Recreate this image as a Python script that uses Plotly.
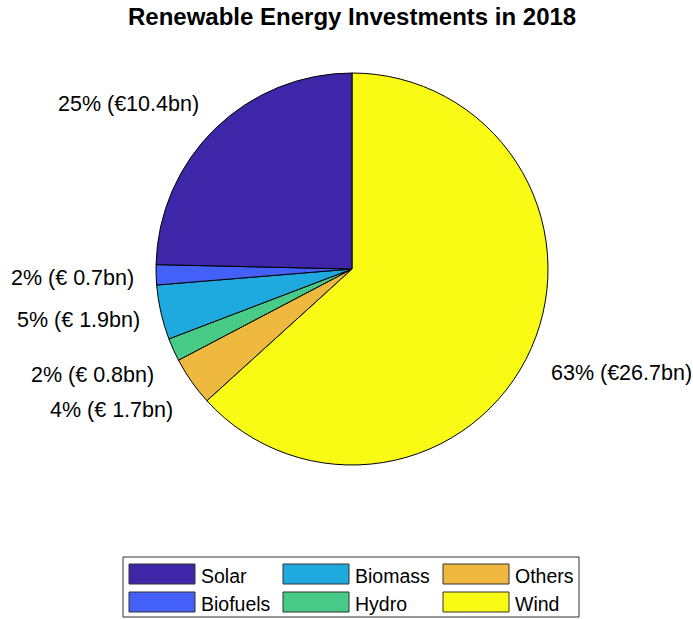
import math
import plotly.graph_objects as go

# Investment by technology, billions of euros
sources = ["Solar", "Biofuels", "Biomass", "Hydro", "Others", "Wind"]
invest_bn = [10.4, 0.7, 1.9, 0.8, 1.7, 26.7]
colors = ["#3E26A8", "#4361F8", "#1EA9DF", "#48CB86", "#EFB83F", "#F9FB15"]

W, H = 693, 619
FONT = "Liberation Sans, Arial, sans-serif"

# Pie geometry in pixels
cx, cy, R = 352, 269, 196


def px(x):
    return x / W


def py(y):
    return 1 - y / H


total = sum(invest_bn)
labels = [f"{round(v / total * 100)}% (€{v:4.1f}bn)" for v in invest_bn]

# Slices run counter-clockwise from 12 o'clock; Plotly draws them clockwise,
# so the series is handed over in reverse order.
fig = go.Figure(
    go.Pie(
        labels=sources[::-1],
        values=invest_bn[::-1],
        sort=False,
        direction="clockwise",
        rotation=0,
        textinfo="none",
        hoverinfo="label+value+percent",
        marker=dict(colors=colors[::-1], line=dict(color="black", width=1)),
        domain=dict(x=[px(cx - R), px(cx + R)], y=[py(cy + R), py(cy - R)]),
        showlegend=False,
    )
)

# Slice labels placed just outside the rim at each slice's mid angle
annotations = []
cum = 0.0
for v, txt in zip(invest_bn, labels):
    mid = math.radians(90 + 360 * (cum + v / 2) / total)
    cum += v
    c, s = math.cos(mid), math.sin(mid)
    x = cx + 1.1 * R * c
    y = cy - 1.1 * R * s
    xanchor = "right" if c < 0 else "left"
    if s > 0.3:
        yanchor = "bottom"
    elif s < -0.3:
        yanchor = "top"
    else:
        yanchor = "middle"
    annotations.append(dict(
        x=px(x), y=py(y), xref="paper", yref="paper", text=txt,
        showarrow=False, xanchor=xanchor, yanchor=yanchor, yshift=-3,
        font=dict(family=FONT, size=21.5, color="black"),
    ))

# Legend: three columns, two rows, filled column by column
shapes = [dict(type="rect", xref="paper", yref="paper",
               x0=px(123), x1=px(579), y0=py(617), y1=py(557),
               line=dict(color="#333333", width=1), fillcolor="white", layer="below")]
col_x = [129, 283, 443]
row_y = [574, 602]
for i, (name, col) in enumerate(zip(sources, colors)):
    c, r = divmod(i, 2)
    x0 = col_x[c]
    yc = row_y[r]
    shapes.append(dict(type="rect", xref="paper", yref="paper",
                       x0=px(x0), x1=px(x0 + 66), y0=py(yc + 10), y1=py(yc - 10),
                       line=dict(color="#333333", width=1), fillcolor=col))
    annotations.append(dict(
        x=px(x0 + 70), y=py(yc + 2), xref="paper", yref="paper", text=name,
        showarrow=False, xanchor="left", yanchor="middle",
        font=dict(family=FONT, size=19.5, color="black"),
    ))

annotations.append(dict(
    x=px(352), y=py(17), xref="paper", yref="paper",
    text="<b>Renewable Energy Investments in 2018</b>",
    showarrow=False, xanchor="center", yanchor="middle",
    font=dict(family=FONT, size=24, color="black"),
))

fig.update_layout(
    width=W, height=H,
    margin=dict(l=0, r=0, t=0, b=0),
    paper_bgcolor="white", plot_bgcolor="white",
    annotations=annotations, shapes=shapes,
)

fig.write_html("out.html")
